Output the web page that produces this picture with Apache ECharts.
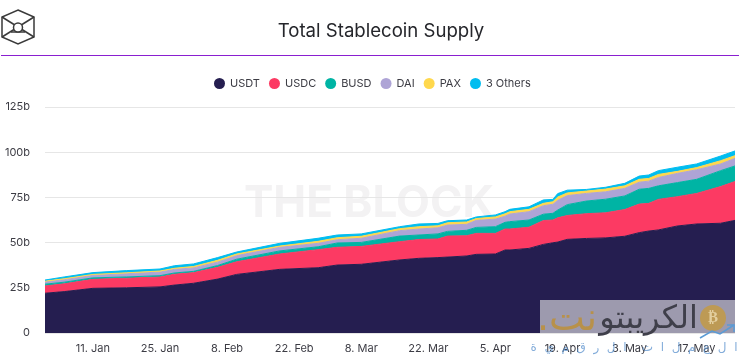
<!DOCTYPE html>
<html>
<head>
<meta charset="utf-8">
<script src="https://cdn.jsdelivr.net/npm/echarts@6/dist/echarts.min.js"></script>
<style>
html, body { margin: 0; padding: 0; background: #fff; }
#chart { width: 739px; height: 356px; }
</style>
</head>
<body>
<div id="chart"></div>
<script>
const dates = ['2021-01-01','2021-01-05','2021-01-11','2021-01-18','2021-01-25','2021-01-28','2021-02-01','2021-02-06','2021-02-10','2021-02-19','2021-02-27','2021-03-03','2021-03-08','2021-03-16','2021-03-20','2021-03-24','2021-03-26','2021-03-30','2021-04-01','2021-04-05','2021-04-07','2021-04-08','2021-04-12','2021-04-15','2021-04-17','2021-04-18','2021-04-20','2021-04-24','2021-04-28','2021-05-02','2021-05-05','2021-05-07','2021-05-09','2021-05-13','2021-05-17','2021-05-22','2021-05-25']
const usdt = [22,22.9,24.7,25,25.5,26.5,27.5,29.8,32.4,35.2,36.1,37.6,38,40.4,41.3,41.7,42,42.6,43.5,43.7,45.9,45.9,46.8,49,49.9,50.3,51.8,52.3,52.6,53.5,55.5,56.4,57,59.2,60.3,60.7,62.3]
const usdc = [4,4.3,5,5.3,5.5,6,5.9,6.5,7,8.5,10,9.8,9.9,10.1,10.4,10.3,11.6,11.2,11.6,11.4,11.6,11.6,11.7,13.2,12.6,13.4,13.2,13.7,13.9,14.8,15.8,15.3,16.9,16.2,16.9,20.3,21.5]
const busd = [1,0.9,0.8,0.7,0.7,0.7,0.7,1,1.4,1.7,1.6,2.4,2.2,3.1,2.5,2.8,2.6,3,3.3,3.7,3.7,4.1,4,3.5,3.7,4.3,6,7,7.5,7.5,8.2,8.3,7.5,7.8,7.8,8.8,8.6]
const dai = [1.3,1.4,1.4,1.8,2,2,1.9,1.9,2,2,1.9,1.8,2.3,3,3.3,3.4,3.5,3.3,3.9,4.2,3.4,4.2,4.6,4.7,5,5.4,5,4.2,4.1,4.2,3.9,4,4.6,5.1,5.3,3.7,4.2]
const pax = [0.4,0.5,0.5,0.5,0.6,0.6,0.8,1,0.9,0.7,1.1,1.1,1.1,1.1,1.3,1.1,1.3,1.3,1,1.2,1.3,1.3,1.3,1.3,1.4,1.8,1.5,1.3,1.5,1.4,1.6,1.5,1.7,1.1,1.2,1.8,1.5]
const others = [0.6,1,1,1.2,1.1,1.4,1.4,1.5,1.1,1.5,1.7,1.5,1.3,1.1,1.5,1.3,1.1,1.1,0.9,1.1,1.2,1.3,1.4,1.9,1.3,1.9,1.5,0.9,1,1.4,1.8,1.9,2.1,2.3,2,2.6,2.6]
const tickDates = ['2021-01-11','2021-01-25','2021-02-08','2021-02-22','2021-03-08','2021-03-22','2021-04-05','2021-04-19','2021-05-03','2021-05-17']
const seriesNames = ['USDT','USDC','BUSD','DAI','PAX','3 Others']
const seriesColors = ['#251e50','#fc3a63','#00b4a4','#aea4d6','#ffd84d','#00bdf0']
const seriesData = [usdt, usdc, busd, dai, pax, others]

const font = 'Inter, "Noto Sans", sans-serif'
const months = ['Jan','Feb','Mar','Apr','May']
const toTime = d => new Date(d + 'T00:00:00Z').getTime()
const xMin = toTime('2021-01-01')
const xMax = toTime('2021-05-25')

const chart = echarts.init(document.getElementById('chart'))

const option = {
  animation: false,
  backgroundColor: '#fff',
  textStyle: { fontFamily: font },
  title: {
    text: 'Total Stablecoin Supply',
    left: 376,
    top: 17,
    textAlign: 'center',
    textStyle: { fontFamily: font, fontSize: 18.6, fontWeight: 400, color: '#25262b' }
  },
  legend: {
    top: 73,
    left: 209,
    icon: 'circle',
    itemWidth: 11,
    itemHeight: 11,
    itemGap: 9,
    textStyle: { fontFamily: font, fontSize: 11, color: '#3c3c44' },
    data: seriesNames
  },
  grid: { left: 45, right: 4, top: 107, bottom: 23 },
  xAxis: [
    // time axis carries the stack, its own labels are off
    {
      type: 'time',
      min: xMin,
      max: xMax,
      axisLine: { show: false },
      splitLine: { show: false },
      axisTick: { show: false },
      axisLabel: { show: false }
    },
    // same range, only there for the 14 day labels
    {
      type: 'value',
      position: 'bottom',
      min: xMin,
      max: xMax,
      axisLine: { show: false },
      splitLine: { show: false },
      axisTick: { show: false },
      axisLabel: {
        customValues: tickDates.map(toTime),
        fontSize: 11,
        color: '#3c3c44',
        margin: 10,
        formatter: v => {
          const d = new Date(v)
          return d.getUTCDate() + '. ' + months[d.getUTCMonth()]
        }
      }
    }
  ],
  yAxis: {
    type: 'value',
    min: 0,
    max: 125,
    interval: 25,
    axisLine: { show: false },
    axisTick: { show: false },
    splitLine: { lineStyle: { color: '#e6e6e6', width: 1 } },
    axisLabel: {
      fontSize: 11,
      color: '#3c3c44',
      margin: 15,
      formatter: v => (v === 0 ? '0' : v + 'b')
    }
  },
  series: seriesNames.map((name, i) => ({
    name,
    type: 'line',
    stack: 'supply',
    symbol: 'none',
    // thin same colour stroke hides the seams between layers
    lineStyle: { width: 1, color: seriesColors[i] },
    itemStyle: { color: seriesColors[i] },
    areaStyle: { color: seriesColors[i], opacity: 1 },
    data: dates.map((d, j) => [toTime(d), seriesData[i][j]])
  })),
  graphic: [
    // logo
    { type: 'polygon', shape: { points: [[18,10],[34,17],[34,37],[18,44],[2,37],[2,17]] }, style: { fill: 'none', stroke: '#3a3a3a', lineWidth: 1.5 } },
    { type: 'line', shape: { x1: 2, y1: 17, x2: 34, y2: 37 }, style: { stroke: '#3a3a3a', lineWidth: 1.5 } },
    { type: 'line', shape: { x1: 34, y1: 17, x2: 2, y2: 37 }, style: { stroke: '#3a3a3a', lineWidth: 1.5 } },
    { type: 'line', shape: { x1: 11, y1: 32, x2: 25, y2: 32 }, style: { stroke: '#3a3a3a', lineWidth: 1.5 } },
    { type: 'circle', shape: { cx: 18, cy: 27.5, r: 4.5 }, style: { fill: '#fff', stroke: '#3a3a3a', lineWidth: 1.5 } },
    // purple rule under the header
    { type: 'rect', shape: { x: 1, y: 55, width: 738, height: 1 }, style: { fill: '#8a1fd0' } },
    // background mark
    { type: 'text', z: -1, silent: true, style: { x: 369, y: 204, text: 'THE BLOCK', align: 'center', verticalAlign: 'middle', fill: '#f3f2f3', font: '700 44px Inter, sans-serif' } },
    // overlay stamp, bottom right
    { type: 'rect', z: 20, shape: { x: 540, y: 300, width: 195, height: 33 }, style: { fill: '#9d9aae' } },
    { type: 'circle', z: 21, shape: { cx: 713, cy: 318, r: 13 }, style: { fill: '#bd9a55' } },
    { type: 'text', z: 22, style: { x: 713, y: 318, text: '₿', align: 'center', verticalAlign: 'middle', fill: '#e3cf9f', font: '700 15px "DejaVu Sans"' } },
    { type: 'text', z: 22, style: { x: 698, y: 320, text: 'الكريبتو', align: 'right', verticalAlign: 'middle', fill: '#3f3f4a', font: '400 32px "DejaVu Sans"' } },
    { type: 'text', z: 22, style: { x: 597, y: 320, text: '.نت', align: 'right', verticalAlign: 'middle', fill: '#b8914a', font: '400 38px "DejaVu Sans"' } },
    { type: 'polyline', z: 22, shape: { points: [[700,338],[712,331],[720,334],[734,325]] }, style: { fill: 'none', stroke: '#5b9bd5', lineWidth: 1.5 } },
    { type: 'polyline', z: 22, shape: { points: [[727,325],[734,325],[734,332]] }, style: { fill: 'none', stroke: '#5b9bd5', lineWidth: 1.5 } },
    { type: 'text', z: 22, style: { x: 634, y: 348, text: 'ا  ل  ع  م  ل  ا  ت    ا  ل  ر  ق  م  ي  ة', align: 'center', verticalAlign: 'middle', fill: 'rgba(91,145,205,0.75)', font: '400 12px "DejaVu Sans"' } }
  ]
}

chart.setOption(option)
</script>
</body>
</html>
